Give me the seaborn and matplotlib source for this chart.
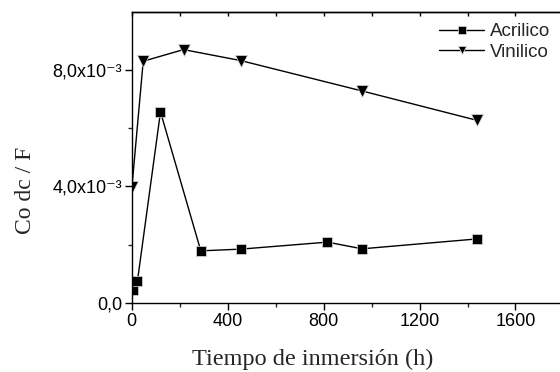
import matplotlib
matplotlib.use("Agg")
import matplotlib.pyplot as plt
import seaborn as sns
import pandas as pd
from matplotlib.ticker import MultipleLocator, FixedLocator

sns.set_theme(style="ticks")
plt.rcParams['font.family'] = ['Liberation Sans', 'DejaVu Sans']

acr_x = [4, 24, 120, 288, 456, 816, 960, 1440]
acr_y = [0.45e-3, 0.76e-3, 6.56e-3, 1.79e-3, 1.85e-3, 2.09e-3, 1.86e-3, 2.20e-3]
vin_x = [1, 48, 216, 456, 960, 1440]
vin_y = [3.99e-3, 8.30e-3, 8.70e-3, 8.32e-3, 7.28e-3, 6.27e-3]
series_names = ["Acrilico", "Vinilico"]
x_ticks = [0, 400, 800, 1200, 1600]
y_ticks = [0.0, 4.0e-3, 8.0e-3]
y_tick_labels = ["0,0", "4,0x10⁻³", "8,0x10⁻³"]
x_label = "Tiempo de inmersión (h)"
y_label = "Co dc / F"

df = pd.concat([
    pd.DataFrame({"t": acr_x, "v": acr_y, "s": series_names[0]}),
    pd.DataFrame({"t": vin_x, "v": vin_y, "s": series_names[1]}),
])

fig = plt.figure(figsize=(5.6, 3.72), dpi=100)
ax = fig.add_axes([0.2352, 0.1855, 0.771, 0.783])

sns.lineplot(data=df, x="t", y="v", hue="s", style="s",
             palette={"Acrilico": "black", "Vinilico": "black"},
             markers={"Acrilico": "s", "Vinilico": "v"}, dashes=False,
             markersize=7, linewidth=1, markeredgecolor="#dddddd",
             markeredgewidth=0.5, sort=False, ax=ax, legend=True)

for ln in ax.lines:
    if ln.get_marker() == "v":
        ln.set_markersize(8.5)

ax.set_xlim(0, 1800)
ax.set_ylim(0, 0.01)
ax.set_xticks(x_ticks)
ax.set_xticklabels([str(v) for v in x_ticks])
ax.xaxis.set_minor_locator(MultipleLocator(200))
ax.set_yticks(y_ticks)
ax.set_yticklabels(y_tick_labels)
ax.yaxis.set_minor_locator(FixedLocator([2e-3, 6e-3]))

ax.tick_params(axis="both", which="major", direction="out", length=5, width=1,
               labelsize=13, colors="black", pad=2)
ax.tick_params(axis="both", which="minor", direction="out", length=3, width=1)

top = ax.secondary_xaxis("top")
top.set_xticks(x_ticks)
top.xaxis.set_minor_locator(MultipleLocator(200))
top.tick_params(axis="x", which="both", direction="in", length=3, width=1,
                labeltop=False, colors="black")
top.spines["top"].set_color("black")
top.spines["top"].set_linewidth(1)

for side in ["left", "bottom", "top"]:
    ax.spines[side].set_color("black")
    ax.spines[side].set_linewidth(1)
ax.spines["right"].set_visible(False)

ax.set_xlabel(x_label, family="Liberation Serif", fontsize=17.5)
ax.xaxis.set_label_coords(0.419, -0.158)
ax.set_ylabel(y_label, family="Liberation Serif", fontsize=17)
ax.yaxis.set_label_coords(-0.222, 0.388)

leg = ax.legend(loc="upper right", bbox_to_anchor=(0.995, 1.0), frameon=False,
                fontsize=13.5, handlelength=2.4, handletextpad=0.3,
                labelspacing=0.2, borderaxespad=0.2)
for h in leg.legend_handles:
    h.set_markersize(6)

fig.savefig("out.png", dpi=100)
